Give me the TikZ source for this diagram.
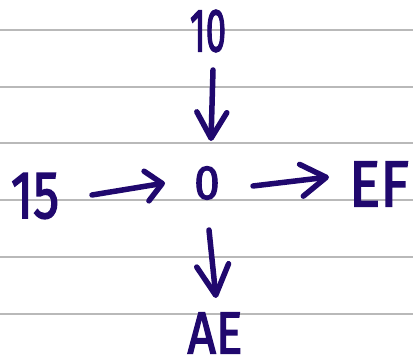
\documentclass[tikz,border=0pt]{standalone}
\usepackage{fontspec}
\setmainfont{Fira Sans}[Numbers=Proportional]
\newfontfamily\hwfont{Fira Sans}[Numbers=Proportional,FakeBold=2.5]
\usepackage{graphicx}
\usetikzlibrary{arrows.meta}
\definecolor{ink}{RGB}{32,8,110}
\definecolor{rule}{RGB}{185,185,185}
\tikzset{
  lbl/.style={inner sep=0pt, outer sep=0pt, text=ink, anchor=center},
  arr/.style={draw=ink, line width=5.5pt, line cap=round, line join=round},
  ruleline/.style={draw=rule, line width=1.4pt},
}
\newcommand{\hw}[3]{\scalebox{#1}[1]{\hwfont\fontsize{#2}{#2}\selectfont #3}}
\begin{document}
\begin{tikzpicture}[x=1pt,y=-1pt]
\useasboundingbox[fill=white] (0,0) rectangle (413,363);
% ruled lines
\foreach \yy in {30,87,143,200,257,314}
  \draw[ruleline] (0,\yy) -- (413,\yy);
% labels
\node[lbl] (t10) at (208,31) {\hw{0.6}{61}{10}};
\node[lbl] (zero) at (207,183) {\hw{0.95}{48}{0}};
\node[lbl] (n15) at (35,196) {\hw{0.77}{67}{15}};
\node[lbl] (ef) at (379,184) {\hw{0.9}{65}{EF}};
\node[lbl] (ae) at (215,333) {\hw{0.84}{59}{AE}};
% connectors
\draw[arr, -{Straight Barb[length=26pt,width=30pt,round]}]
  ([shift={(5,39)}]t10.center) -- ([shift={(4,-42)}]zero.center);
\draw[arr, -{Straight Barb[length=16pt,width=30pt,round]}]
  ([shift={(57,-1)}]n15.center) -- ([shift={(-42,0)}]zero.center);
\draw[arr, -{Straight Barb[length=25pt,width=32pt,round]}]
  ([shift={(46,3)}]zero.center) -- ([shift={(-50,-7)}]ef.center);
\draw[arr, -{Straight Barb[length=30pt,width=32pt,round]}]
  ([shift={(2,47)}]zero.center) -- ([shift={(1,-35)}]ae.center);
\end{tikzpicture}
\end{document}
